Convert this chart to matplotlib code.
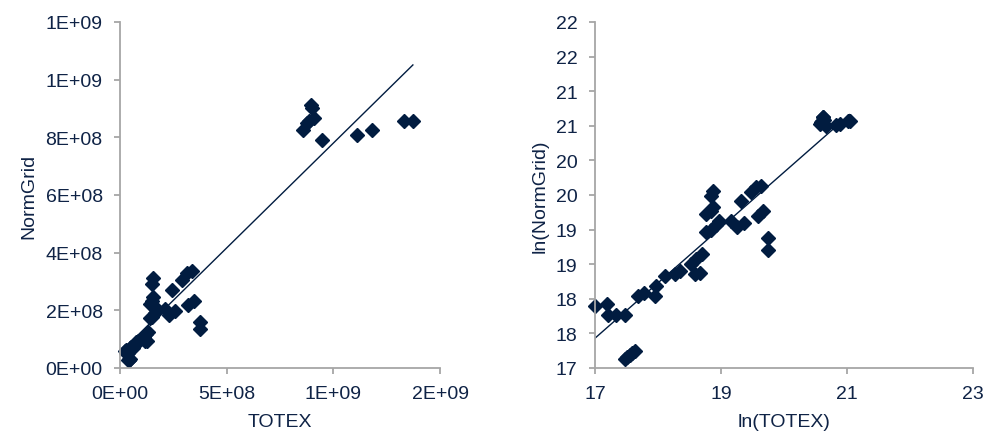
import matplotlib.pyplot as plt
import numpy as np
from matplotlib.ticker import FuncFormatter

plt.rcParams['font.family'] = ['Liberation Sans', 'DejaVu Sans']

# ln(TOTEX) and ln(NormGrid) per network operator
ln_totex = [17.00, 17.19, 17.21, 17.34, 17.48, 17.47, 17.51, 17.55, 17.59, 17.63,
            17.69, 17.77, 17.95, 17.97, 18.11, 18.27, 18.35, 18.53, 18.59, 18.66,
            18.61, 18.69, 18.76, 18.84, 18.92, 18.97, 18.76, 18.84, 18.87, 18.84,
            18.87, 19.16, 19.26, 19.37, 19.32, 19.48, 19.56, 19.64, 19.58, 19.66,
            19.74, 19.74, 20.57, 20.59, 20.61, 20.62, 20.63, 20.60, 20.67, 20.83,
            20.89, 21.01, 21.04]
ln_normgrid = [17.90, 17.93, 17.76, 17.76, 17.76, 17.13, 17.16, 17.19, 17.22, 17.25,
               18.04, 18.08, 18.04, 18.19, 18.33, 18.36, 18.40, 18.50, 18.36, 18.37,
               18.58, 18.64, 18.97, 18.99, 19.06, 19.13, 19.22, 19.27, 19.32, 19.49,
               19.56, 19.13, 19.03, 19.10, 19.42, 19.54, 19.61, 19.63, 19.20, 19.27,
               18.88, 18.71, 20.53, 20.56, 20.63, 20.62, 20.58, 20.57, 20.49, 20.51,
               20.53, 20.57, 20.57]

# linear trendlines (slope, intercept)
trend_raw = (0.727, 0.053e9)
trend_log = (0.80, 3.83)

ln_totex = np.array(ln_totex)
ln_normgrid = np.array(ln_normgrid)
totex = np.exp(ln_totex)
normgrid = np.exp(ln_normgrid)

navy = '#011c40'
text_col = '#0f2346'
spine_col = '#a6a6a6'


def style(ax):
    for s in ['top', 'right']:
        ax.spines[s].set_visible(False)
    for s in ['left', 'bottom']:
        ax.spines[s].set_color(spine_col)
        ax.spines[s].set_linewidth(1.3)
    ax.tick_params(direction='out', length=4.5, width=1.3, color=spine_col,
                   labelsize=14, labelcolor=text_col, pad=8)


def scatter_trend(ax, x, y, trend):
    k, d = trend
    xs = np.array([x.min(), x.max()])
    ax.plot(xs, k * xs + d, color=navy, lw=1.0, zorder=1)
    ax.plot(x, y, 'D', ms=7, color=navy, mec=navy, zorder=2, clip_on=False)


fig = plt.figure(figsize=(9.88, 4.39), dpi=100)
ax1 = fig.add_axes([0.1215, 0.1595, 0.3239, 0.7882])
ax2 = fig.add_axes([0.6022, 0.1595, 0.3829, 0.7882])

# raw values
scatter_trend(ax1, totex, normgrid, trend_raw)
style(ax1)
ax1.set_xlim(0, 1.5e9)
ax1.set_ylim(0, 1.2e9)
ax1.set_xticks(np.arange(0, 1.51e9, 0.5e9))
ax1.set_yticks(np.arange(0, 1.21e9, 0.2e9))
sci = FuncFormatter(lambda v, p: f"{v:.0E}")
ax1.xaxis.set_major_formatter(sci)
ax1.yaxis.set_major_formatter(sci)
ax1.set_xlabel('TOTEX', fontsize=14, color=text_col, labelpad=8)
ax1.set_ylabel('NormGrid', fontsize=14, color=text_col, labelpad=6)

# log values
scatter_trend(ax2, ln_totex, ln_normgrid, trend_log)
style(ax2)
ax2.set_xlim(17, 23)
ax2.set_ylim(17, 22)
ax2.set_xticks([17, 19, 21, 23])
ax2.set_yticks(np.arange(17, 22.01, 0.5))
ax2.yaxis.set_major_formatter(FuncFormatter(lambda v, p: f"{int(np.floor(v + 0.5))}"))
ax2.set_xlabel('ln(TOTEX)', fontsize=14, color=text_col, labelpad=8)
ax2.set_ylabel('ln(NormGrid)', fontsize=14, color=text_col, labelpad=5)

fig.savefig('out.png', dpi=100)
